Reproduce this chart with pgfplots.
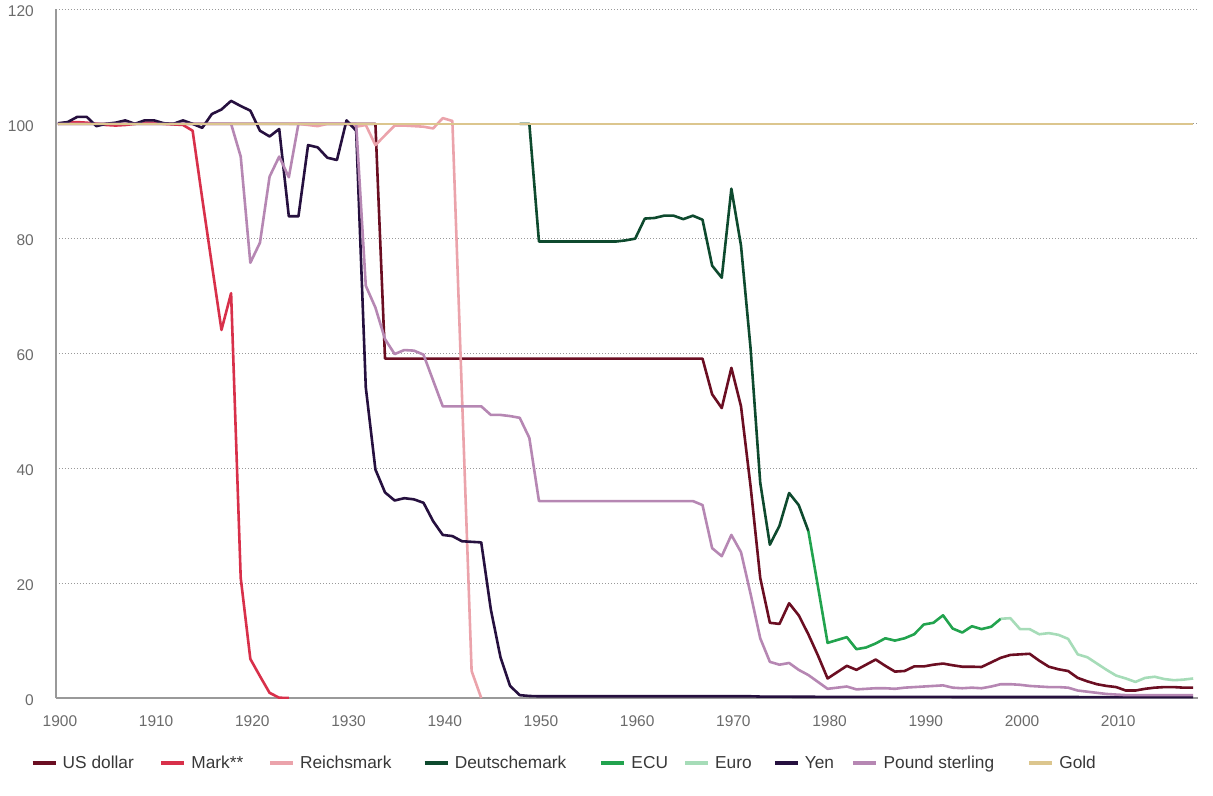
\documentclass[border=0pt]{standalone}
\usepackage{fontspec}
\setmainfont{Liberation Sans}
\usepackage{pgfplots}
\pgfplotsset{compat=1.18}
\definecolor{cUSD}{HTML}{6B0E22}
\definecolor{cMark}{HTML}{D8304A}
\definecolor{cRM}{HTML}{EBA3AB}
\definecolor{cDM}{HTML}{0E4A2E}
\definecolor{cECU}{HTML}{22A34E}
\definecolor{cEuro}{HTML}{A6DCB8}
\definecolor{cYen}{HTML}{26103F}
\definecolor{cGBP}{HTML}{B687B3}
\definecolor{cGold}{HTML}{DCC68E}
\begin{document}
\begin{tikzpicture}
\begin{axis}[
  at={(0,0)}, anchor=south west,
  scale only axis, width=1142bp, height=689bp,
  xmin=1899.8, xmax=2018.5, ymin=0, ymax=120,
  axis x line*=bottom, axis y line*=left,
  axis line style={draw=black!40, line width=1.3bp, -},
  xtick={1900,1910,...,2010}, ytick={0,20,...,120},
  major tick length=0pt,
  ymajorgrids,
  grid style={dash pattern=on 1bp off 2bp, draw=black!40, line width=0.8bp},
  /pgf/number format/assume math mode=true,
  /pgf/number format/1000 sep={},
  xticklabel style={font=\fontsize{15.5bp}{18bp}\selectfont, text=black!58, anchor=north, inner sep=0pt, yshift=-17bp, xshift=2bp},
  yticklabel style={font=\fontsize{15.5bp}{18bp}\selectfont, text=black!58, anchor=east, inner sep=0pt, xshift=-22bp, yshift=-2bp},
  every axis plot/.append style={line width=2.6bp, line join=round, mark=none},
  legend image code/.code={\draw[#1, line width=3.2bp] (0bp,0bp) -- (23bp,0bp);},
  legend columns=9,
  legend style={draw=none, fill=none, inner sep=0pt, outer sep=0pt,
    at={(-0.0219,-0.09434)}, anchor=west,
    font=\fontsize{17.3bp}{20bp}\selectfont, text=black!78,
    cells={anchor=west},
    nodes={inner sep=0pt},
    /tikz/every odd column/.append style={column sep=5.5bp},
    /tikz/every even column/.append style={column sep=0bp}},
]
% US dollar
\addplot[cUSD] coordinates {
(1900,100)(1933,100)(1934,59.1)(1967,59.1)(1968,52.9)(1969,50.5)(1970,57.5)(1971,50.8)
(1972,36.8)(1973,20.9)(1974,13.1)(1975,12.9)(1976,16.5)(1977,14.4)(1978,11.1)(1979,7.4)
(1980,3.4)(1981,4.5)(1982,5.6)(1983,4.9)(1984,5.8)(1985,6.7)(1986,5.6)(1987,4.6)(1988,4.7)
(1989,5.5)(1990,5.5)(1991,5.8)(1992,6.0)(1993,5.7)(1994,5.45)(1995,5.45)(1996,5.4)(1997,6.2)
(1998,7.0)(1999,7.5)(2000,7.6)(2001,7.7)(2002,6.5)(2003,5.45)(2004,5.0)(2005,4.7)(2006,3.5)
(2007,2.9)(2008,2.4)(2009,2.1)(2010,1.9)(2011,1.3)(2012,1.3)(2013,1.6)(2014,1.8)(2015,1.9)
(2016,1.9)(2017,1.8)(2018,1.8)};
\addlegendentry{\makebox[97bp][l]{US dollar}}
% Mark
\addplot[cMark] coordinates {
(1900,100)(1901,100.2)(1902,100.3)(1903,100.2)(1904,100)(1905,99.8)(1906,99.7)(1907,99.8)
(1908,100)(1909,100.2)(1910,100.2)(1911,100)(1912,99.9)(1913,99.8)(1914,98.8)(1915,87)
(1916,75.5)(1917,64.1)(1918,70.5)(1919,20.9)(1920,6.8)(1921,3.8)(1922,0.9)(1923,0.05)(1924,0)};
\addlegendentry{\makebox[77bp][l]{Mark**}}
% Reichsmark
\addplot[cRM] coordinates {
(1924,100)(1925,100)(1926,99.8)(1927,99.6)(1928,100)(1929,100)(1930,100)(1931,99.5)
(1932,99.8)(1933,96.3)(1934,98.0)(1935,99.7)(1936,99.7)(1937,99.6)(1938,99.5)(1939,99.2)
(1940,101)(1941,100.5)(1942,52.6)(1943,4.7)(1944,0)};
\addlegendentry{\makebox[123bp][l]{Reichsmark}}
% Deutschemark
\addplot[cDM] coordinates {
(1948,100)(1949,100)(1950,79.5)(1958,79.5)(1959,79.7)(1960,80)(1961,83.5)(1962,83.6)
(1963,84)(1964,84)(1965,83.4)(1966,84)(1967,83.3)(1968,75.3)(1969,73.2)(1970,88.7)
(1971,78.8)(1972,60.8)(1973,37.5)(1974,26.7)(1975,30)(1976,35.7)(1977,33.6)(1978,29.1)};
\addlegendentry{\makebox[145bp][l]{Deutschemark}}
% ECU
\addplot[cECU] coordinates {
(1978,29.1)(1979,19.4)(1980,9.6)(1981,10.1)(1982,10.6)(1983,8.5)(1984,8.8)(1985,9.5)
(1986,10.4)(1987,10.0)(1988,10.4)(1989,11.1)(1990,12.8)(1991,13.1)(1992,14.4)(1993,12.1)
(1994,11.4)(1995,12.5)(1996,12.0)(1997,12.4)(1998,13.8)};
\addlegendentry{\makebox[52bp][l]{ECU}}
% Euro
\addplot[cEuro] coordinates {
(1998,13.8)(1999,13.9)(2000,12.0)(2001,12.0)(2002,11.1)(2003,11.3)(2004,11.0)(2005,10.3)
(2006,7.6)(2007,7.1)(2008,6.0)(2009,4.9)(2010,3.9)(2011,3.4)(2012,2.8)(2013,3.5)(2014,3.7)
(2015,3.3)(2016,3.1)(2017,3.2)(2018,3.4)};
\addlegendentry{\makebox[58bp][l]{Euro}}
% Yen
\addplot[cYen] coordinates {
(1900,100.1)(1901,100.3)(1902,101.2)(1903,101.2)(1904,99.6)(1905,100)(1906,100.2)(1907,100.6)
(1908,100)(1909,100.6)(1910,100.6)(1911,100.1)(1912,100)(1913,100.6)(1914,100)(1915,99.3)
(1916,101.7)(1917,102.5)(1918,104)(1919,103.1)(1920,102.3)(1921,98.8)(1922,97.8)(1923,99.1)
(1924,83.9)(1925,83.9)(1926,96.3)(1927,95.9)(1928,94.1)(1929,93.7)(1930,100.6)(1931,98.8)
(1932,54.1)(1933,39.8)(1934,35.8)(1935,34.4)(1936,34.8)(1937,34.6)(1938,34.0)(1939,30.8)
(1940,28.4)(1941,28.2)(1942,27.3)(1943,27.2)(1944,27.1)(1945,15.4)(1946,7.1)(1947,2.1)
(1948,0.5)(1949,0.35)(1950,0.3)(1972,0.3)(1973,0.25)(1980,0.2)(2018,0.15)};
\addlegendentry{\makebox[47bp][l]{Yen}}
% Pound sterling
\addplot[cGBP] coordinates {
(1900,100)(1918,100)(1919,94.3)(1920,75.8)(1921,79.3)(1922,90.8)(1923,94.3)(1924,90.7)
(1925,100)(1931,100)(1932,71.8)(1933,68)(1934,62.5)(1935,59.9)(1936,60.6)(1937,60.5)
(1938,59.8)(1939,55.3)(1940,50.8)(1944,50.8)(1945,49.3)(1946,49.3)(1947,49.1)(1948,48.8)
(1949,45.3)(1950,34.3)(1966,34.3)(1967,33.6)(1968,26.1)(1969,24.7)(1970,28.4)(1971,25.4)
(1972,18.1)(1973,10.4)(1974,6.3)(1975,5.8)(1976,6.1)(1977,4.9)(1978,4.0)(1979,2.8)(1980,1.6)
(1981,1.8)(1982,2.0)(1983,1.5)(1984,1.6)(1985,1.7)(1986,1.7)(1987,1.6)(1988,1.8)(1989,1.9)
(1990,2.0)(1991,2.1)(1992,2.2)(1993,1.8)(1994,1.7)(1995,1.8)(1996,1.7)(1997,2.0)(1998,2.4)
(1999,2.4)(2000,2.3)(2001,2.1)(2002,2.0)(2003,1.9)(2004,1.9)(2005,1.8)(2006,1.3)(2007,1.1)
(2008,0.9)(2009,0.7)(2010,0.6)(2011,0.5)(2018,0.5)};
\addlegendentry{\makebox[144bp][l]{Pound sterling}}
% Gold
\addplot[cGold] coordinates {(1900,100)(2018,100)};
\addlegendentry{Gold}
\end{axis}
\pgfresetboundingbox
\path[use as bounding box] (-56bp,-98bp) rectangle (1157bp,698bp);
\end{tikzpicture}
\end{document}
